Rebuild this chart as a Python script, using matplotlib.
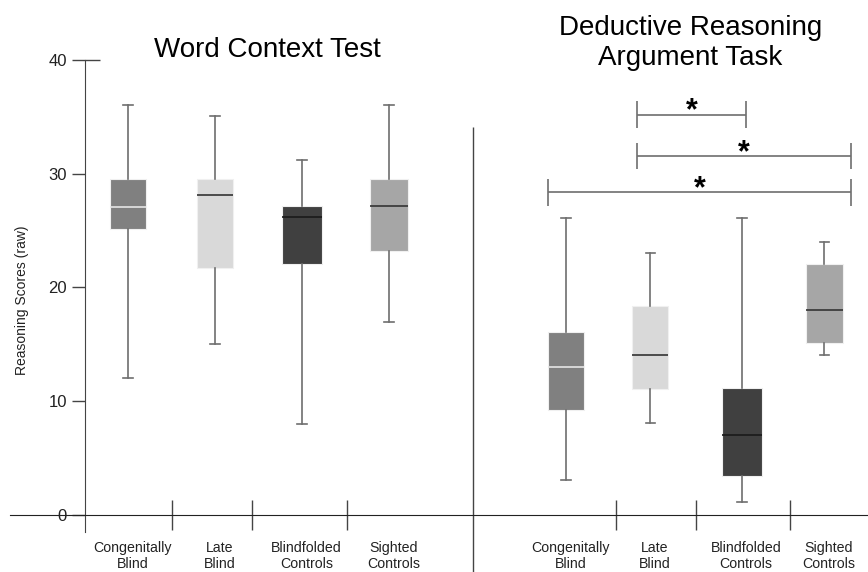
import numpy as np
import matplotlib.pyplot as plt

plt.rcParams['font.family'] = ['Liberation Sans', 'DejaVu Sans']

groups = ['Congenitally\nBlind', 'Late\nBlind', 'Blindfolded\nControls', 'Sighted\nControls']
box_colors = ['#808080', '#d9d9d9', '#404040', '#a6a6a6']
median_colors = ['#e6e6e6', '#333333', '#1a1a1a', '#333333']

# Word Context Test
wct_low = [12.0, 15.0, 8.0, 17.0]
wct_q1 = [25.1, 21.7, 22.1, 23.2]
wct_med = [27.05, 28.1, 26.2, 27.15]
wct_q3 = [29.5, 29.5, 27.15, 29.5]
wct_high = [36.0, 35.1, 31.2, 36.0]

# Deductive Reasoning Argument Task
drat_low = [3.05, 8.1, 1.1, 14.1]
drat_q1 = [9.2, 11.1, 3.4, 15.1]
drat_med = [13.0, 14.1, 7.0, 18.0]
drat_q3 = [16.1, 18.4, 11.2, 22.1]
drat_high = [26.1, 23.05, 26.1, 24.0]

left_pos = [1, 2, 3, 4]
right_pos = [6.03, 7.0, 8.05, 9.0]
widths = [0.41, 0.41, 0.46, 0.43]

# significance brackets (x from, x to, y)
sig_x0 = [6.85, 6.85, 5.83]
sig_x1 = [8.1, 9.3, 9.3]
sig_y = [35.2, 31.55, 28.35]

fig = plt.figure(figsize=(8.68, 5.72), dpi=100)
ax = fig.add_axes([0, 0, 1, 1])
ax.set_xlim(-0.47, 9.5)
ax.set_ylim(-5.01, 45.27)


def draw_group(pos, low, q1, med, q3, high):
    stats = []
    for i in range(4):
        stats.append(dict(whislo=low[i], q1=q1[i], med=med[i], q3=q3[i],
                          whishi=high[i], fliers=[]))
    b = ax.bxp(stats, positions=pos, widths=widths, patch_artist=True,
               showfliers=False, capwidths=[0.11] * 4,
               whiskerprops=dict(color='#6e6e6e', lw=1.2),
               capprops=dict(color='#6e6e6e', lw=1.2),
               boxprops=dict(lw=0.8))
    for i in range(4):
        b['boxes'][i].set_facecolor(box_colors[i])
        b['boxes'][i].set_edgecolor('#f0f0f0')
        b['medians'][i].set_color(median_colors[i])
        b['medians'][i].set_linewidth(1.2)
    for i in range(4):
        ax.text(pos[i] + 0.05, -2.3, groups[i], ha='center', va='top',
                fontsize=10.2, color='#222222', linespacing=1.2)


draw_group(left_pos, wct_low, wct_q1, wct_med, wct_q3, wct_high)
draw_group(right_pos, drat_low, drat_q1, drat_med, drat_q3, drat_high)

# axes styling
for s in ['top', 'right']:
    ax.spines[s].set_visible(False)
ax.spines['left'].set_position(('data', 0.506))
ax.spines['left'].set_bounds(-1.5, 40)
ax.spines['left'].set_color('#444444')
ax.spines['bottom'].set_position(('data', 0))
ax.spines['bottom'].set_bounds(-0.356, 9.5)
ax.spines['bottom'].set_color('#222222')
ax.set_yticks([0, 10, 20, 30, 40])
ax.tick_params(axis='y', direction='out', length=9.4, width=1, color='#444444',
               labelsize=12, pad=3.6, labelcolor='#222222')
ax.set_xticks([1.506, 2.425, 3.52, 6.61, 7.52, 8.6])
ax.set_xticklabels([])
ax.tick_params(axis='x', direction='inout', length=21, width=1, color='#444444')
ax.hlines(40, 0.506, 0.68, color='#444444', lw=1)

# separator between panels
ax.vlines(4.966, -5.01, 34.1, color='#444444', lw=1)

ax.text(-0.218, 18.9, 'Reasoning Scores (raw)', rotation=90, ha='center',
        va='center', fontsize=10, color='#222222')

ax.text(2.6, 40.85, 'Word Context Test', ha='center', va='center', fontsize=20)
ax.text(7.46, 41.45, 'Deductive Reasoning\nArgument Task', ha='center',
        va='center', fontsize=20, linespacing=1.2)

for i in range(3):
    ax.hlines(sig_y[i], sig_x0[i], sig_x1[i], color='#6e6e6e', lw=1.2)
    ax.vlines([sig_x0[i], sig_x1[i]], sig_y[i] - 1.15, sig_y[i] + 1.15,
              color='#6e6e6e', lw=1.2)
    ax.text((sig_x0[i] + sig_x1[i]) / 2, sig_y[i] - 0.45, '*', ha='center',
            va='baseline', fontsize=22, fontweight='bold')

fig.savefig('out.png', dpi=100)
